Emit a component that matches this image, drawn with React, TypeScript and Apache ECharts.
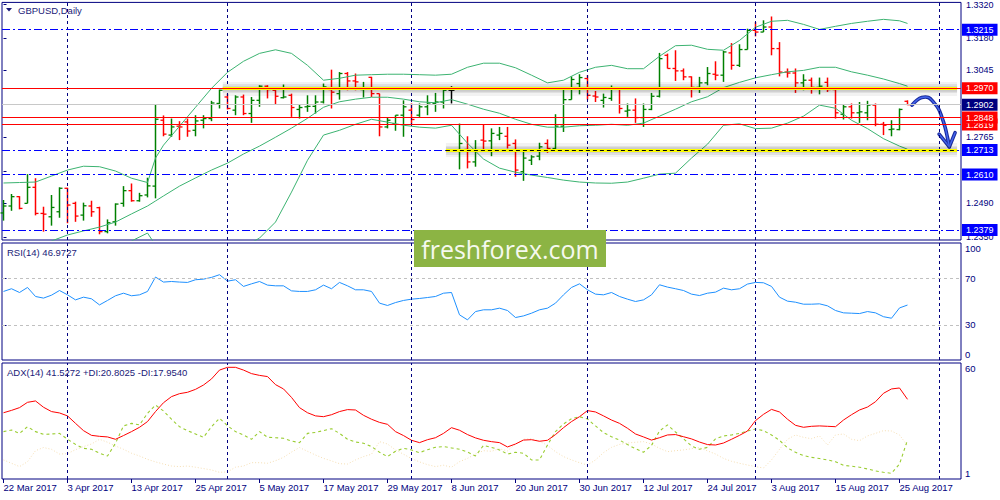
import React, { useEffect, useRef } from 'react';
import * as echarts from 'echarts';

// ---------- data ----------
const tickLabels = ['22 Mar 2017', '3 Apr 2017', '13 Apr 2017', '25 Apr 2017', '5 May 2017', '17 May 2017', '29 May 2017', '8 Jun 2017', '20 Jun 2017', '30 Jun 2017', '12 Jul 2017', '24 Jul 2017', '3 Aug 2017', '15 Aug 2017', '25 Aug 2017'];
const labelStep = 8;
const monthStarts = [8, 28, 51, 73, 94, 117];

const opens = [1.2450, 1.2479, 1.2518, 1.2490, 1.2557, 1.2448, 1.2434, 1.2455, 1.2553, 1.2490,
  1.2441, 1.2479, 1.2472, 1.2372, 1.2413, 1.2490, 1.2543, 1.2501, 1.2525, 1.2562,
  1.2837, 1.2775, 1.2812, 1.2830, 1.2795, 1.2837, 1.2844, 1.2907, 1.2934, 1.2879,
  1.2934, 1.2865, 1.2920, 1.2979, 1.2962, 1.2931, 1.2941, 1.2882, 1.2893, 1.2895,
  1.2913, 1.2965, 1.2948, 1.3032, 1.3001, 1.2965, 1.3016, 1.2948, 1.2809, 1.2823,
  1.2858, 1.2879, 1.2858, 1.2893, 1.2907, 1.2913, 1.2962, 1.2712, 1.2715, 1.2663,
  1.2754, 1.2751, 1.2775, 1.2770, 1.2740, 1.2622, 1.2670, 1.2687, 1.2740, 1.2719,
  1.2812, 1.2923, 1.2990, 1.3011, 1.2938, 1.2920, 1.2928, 1.2969, 1.2875, 1.2879,
  1.2848, 1.2882, 1.2937, 1.3108, 1.3053, 1.3043, 1.3018, 1.2974, 1.2993, 1.3029,
  1.3025, 1.3118, 1.3066, 1.3132, 1.3212, 1.3205, 1.3226, 1.3136, 1.3038, 1.3034,
  1.2993, 1.3004, 1.2974, 1.2995, 1.2965, 1.2862, 1.2893, 1.2868, 1.2868, 1.2900,
  1.2820, 1.2798, 1.2798, 1.2916];
const highs = [1.2504, 1.2529, 1.2520, 1.2612, 1.2595, 1.2476, 1.2525, 1.2557, 1.2555, 1.2497,
  1.2493, 1.2501, 1.2476, 1.2423, 1.2490, 1.2562, 1.2573, 1.2534, 1.2597, 1.2904,
  1.2857, 1.2844, 1.2833, 1.2844, 1.2858, 1.2858, 1.2918, 1.2965, 1.2948, 1.2941,
  1.2944, 1.2934, 1.2983, 1.2983, 1.2965, 1.2986, 1.2948, 1.2904, 1.2941, 1.2941,
  1.2990, 1.3048, 1.3038, 1.3038, 1.3032, 1.2997, 1.3018, 1.2948, 1.2848, 1.2858,
  1.2920, 1.2907, 1.2907, 1.2941, 1.2951, 1.2965, 1.2979, 1.2823, 1.2770, 1.2754,
  1.2820, 1.2803, 1.2809, 1.2809, 1.2757, 1.2705, 1.2691, 1.2743, 1.2757, 1.2862,
  1.2969, 1.3020, 1.3029, 1.3025, 1.2959, 1.2948, 1.2982, 1.2973, 1.2907, 1.2928,
  1.2907, 1.2951, 1.3118, 1.3115, 1.3129, 1.3053, 1.3020, 1.3018, 1.3059, 1.3083,
  1.3126, 1.3159, 1.3154, 1.3219, 1.3247, 1.3254, 1.3270, 1.3163, 1.3053, 1.3053,
  1.3029, 1.3015, 1.3015, 1.3015, 1.2965, 1.2904, 1.2907, 1.2913, 1.2918, 1.2907,
  1.2830, 1.2837, 1.2886, 1.2920];
const lows = [1.2418, 1.2459, 1.2465, 1.2490, 1.2440, 1.2372, 1.2397, 1.2430, 1.2407, 1.2413,
  1.2418, 1.2434, 1.2361, 1.2365, 1.2397, 1.2476, 1.2497, 1.2497, 1.2515, 1.2511,
  1.2770, 1.2768, 1.2754, 1.2768, 1.2770, 1.2803, 1.2833, 1.2886, 1.2882, 1.2858,
  1.2858, 1.2826, 1.2893, 1.2928, 1.2904, 1.2928, 1.2851, 1.2844, 1.2872, 1.2865,
  1.2907, 1.2886, 1.2923, 1.2962, 1.2962, 1.2932, 1.2934, 1.2770, 1.2803, 1.2793,
  1.2768, 1.2820, 1.2851, 1.2858, 1.2872, 1.2886, 1.2907, 1.2632, 1.2636, 1.2643,
  1.2712, 1.2687, 1.2754, 1.2719, 1.2601, 1.2584, 1.2650, 1.2670, 1.2701, 1.2712,
  1.2788, 1.2923, 1.2945, 1.2923, 1.2913, 1.2890, 1.2918, 1.2865, 1.2851, 1.2826,
  1.2809, 1.2879, 1.2932, 1.3053, 1.3001, 1.3004, 1.2932, 1.2951, 1.2983, 1.3004,
  1.2997, 1.3048, 1.3059, 1.3132, 1.3187, 1.3205, 1.3108, 1.3020, 1.3015, 1.2951,
  1.2962, 1.2948, 1.2945, 1.2955, 1.2844, 1.2840, 1.2844, 1.2826, 1.2837, 1.2812,
  1.2775, 1.2770, 1.2795, 1.2900];
const closes = [1.2479, 1.2518, 1.2469, 1.2557, 1.2448, 1.2445, 1.2473, 1.2553, 1.2483, 1.2437,
  1.2480, 1.2455, 1.2372, 1.2409, 1.2487, 1.2543, 1.2501, 1.2522, 1.2563, 1.2841,
  1.2779, 1.2809, 1.2809, 1.2792, 1.2834, 1.2844, 1.2909, 1.2962, 1.2886, 1.2934,
  1.2865, 1.2920, 1.2979, 1.2965, 1.2937, 1.2934, 1.2890, 1.2890, 1.2895, 1.2913,
  1.2976, 1.2954, 1.3032, 1.3001, 1.2997, 1.2973, 1.2948, 1.2809, 1.2837, 1.2858,
  1.2893, 1.2840, 1.2893, 1.2909, 1.2913, 1.2962, 1.2962, 1.2740, 1.2663, 1.2712,
  1.2750, 1.2782, 1.2782, 1.2733, 1.2629, 1.2679, 1.2684, 1.2726, 1.2719, 1.2812,
  1.2923, 1.3007, 1.3015, 1.2941, 1.2934, 1.2932, 1.2969, 1.2886, 1.2879, 1.2848,
  1.2882, 1.2937, 1.3094, 1.3053, 1.3043, 1.3018, 1.2974, 1.2993, 1.3032, 1.3025,
  1.3122, 1.3066, 1.3132, 1.3212, 1.3205, 1.3226, 1.3136, 1.3038, 1.3034, 1.2993,
  1.3004, 1.2974, 1.2979, 1.2965, 1.2868, 1.2893, 1.2868, 1.2872, 1.2900, 1.2820,
  1.2816, 1.2800, 1.2882, 1.2902];

const bbIdx = [0, 2, 4, 6, 8, 10, 12, 14, 16, 18, 19,
  20, 22, 24, 26, 28, 30, 32, 34, 36, 38,
  40, 42, 44, 46, 48, 50, 52, 54, 56, 58,
  60, 62, 64, 66, 68, 70, 72, 74, 76, 78,
  80, 82, 84, 86, 88, 90, 92, 94, 96, 98,
  100, 102, 104, 106, 108, 110, 112, 113];
const bbUpper = [1.2575, 1.2577, 1.2579, 1.2604, 1.2629, 1.2645, 1.2643, 1.2625, 1.2595, 1.2577, 1.2679,
  1.2733, 1.2812, 1.2891, 1.2970, 1.3037, 1.3083, 1.3116, 1.3131, 1.3116, 1.3066,
  1.3004, 1.3012, 1.3025, 1.3027, 1.3029, 1.3029, 1.3027, 1.3025, 1.3029, 1.3058,
  1.3075, 1.3075, 1.3056, 1.3025, 1.2993, 1.3004, 1.3037, 1.3058, 1.3066, 1.3052,
  1.3052, 1.3104, 1.3148, 1.3150, 1.3133, 1.3129, 1.3170, 1.3225, 1.3250, 1.3254,
  1.3237, 1.3216, 1.3229, 1.3241, 1.3250, 1.3258, 1.3252, 1.3241];
const bbMid = [1.2245, 1.2275, 1.2304, 1.2333, 1.2358, 1.2375, 1.2391, 1.2412, 1.2446, 1.2479, 1.2500,
  1.2521, 1.2562, 1.2596, 1.2629, 1.2658, 1.2696, 1.2729, 1.2766, 1.2804, 1.2845,
  1.2891, 1.2914, 1.2925, 1.2933, 1.2933, 1.2925, 1.2914, 1.2910, 1.2923, 1.2904,
  1.2883, 1.2866, 1.2841, 1.2820, 1.2808, 1.2808, 1.2814, 1.2816, 1.2820, 1.2816,
  1.2825, 1.2854, 1.2883, 1.2914, 1.2935, 1.2973, 1.2995, 1.3014, 1.3027, 1.3039,
  1.3045, 1.3058, 1.3058, 1.3039, 1.3025, 1.3009, 1.2990, 1.2979];
const bbLower = [1.1916, 1.1972, 1.2029, 1.2062, 1.2087, 1.2104, 1.2139, 1.2245, 1.2333, 1.2366, 1.2316,
  1.2308, 1.2312, 1.2300, 1.2287, 1.2279, 1.2308, 1.2345, 1.2412, 1.2537, 1.2670,
  1.2775, 1.2795, 1.2820, 1.2841, 1.2829, 1.2816, 1.2808, 1.2804, 1.2816, 1.2741,
  1.2675, 1.2637, 1.2620, 1.2608, 1.2598, 1.2587, 1.2579, 1.2575, 1.2574, 1.2579,
  1.2595, 1.2612, 1.2616, 1.2679, 1.2737, 1.2816, 1.2822, 1.2802, 1.2804, 1.2825,
  1.2854, 1.2900, 1.2887, 1.2837, 1.2802, 1.2760, 1.2729, 1.2716];

const rsi = [58.6, 60.9, 57.7, 62, 54.3, 52.9, 55.4, 59.4, 55.7, 51.4,
  53.7, 52.3, 47.1, 50.9, 54.9, 57.1, 54.9, 55.7, 58.6, 70.9,
  66.6, 67.1, 66.6, 66.3, 68.6, 69.1, 70.6, 72.9, 67.4, 68.6,
  62.9, 65.1, 67.1, 64, 63.4, 63.4, 59.1, 58.6, 58.6, 60,
  64, 60.9, 66.3, 63.4, 60, 60, 58.6, 48.6, 46.6, 49.1,
  50.9, 52, 52.6, 53.4, 54.3, 57.1, 57.7, 38.6, 34.3, 41.4,
  42.9, 42.9, 44.3, 42.3, 36.3, 37.7, 40, 42.9, 44.3, 48.6,
  55.7, 62, 65.1, 60, 56.3, 55.7, 57.7, 54.3, 52, 50,
  51.4, 55.7, 64.3, 62.3, 60.9, 59.4, 56.3, 55.1, 57.1, 58,
  61.4, 60, 60.9, 64.9, 66.3, 66, 62.9, 53.7, 50.3, 49.4,
  47.7, 47.7, 48, 46.3, 42.3, 40.3, 40, 39.7, 41.4, 40.3,
  37, 35.7, 44.5, 46.97];
const adx = [34.7, 35.9, 37.3, 40, 40.7, 37.5, 35.3, 34.6, 33.1, 29.3,
  25.6, 23.2, 22.7, 22.4, 21.2, 23.1, 25.1, 27.3, 30.2, 35.3,
  39.8, 42.9, 44.4, 45.1, 46.6, 48.8, 51.9, 56.4, 57.8, 57.8,
  56.4, 54.6, 53.7, 53.1, 49, 46.8, 42.5, 37.3, 34.7, 33.1,
  32.7, 33.7, 35.3, 36.3, 36.1, 33.4, 31.4, 29.8, 28.8, 25.1,
  23.1, 20.7, 19.5, 21, 22, 24.2, 27.1, 25.8, 23.6, 21.9,
  20.7, 20, 19.5, 17.3, 18.8, 20.8, 21, 20.2, 20.7, 23.6,
  27.1, 30.2, 32.7, 35.8, 35.1, 33.1, 31, 29.3, 26.8, 23.9,
  22.4, 20.8, 22, 23.4, 23.6, 22.5, 21.4, 19.8, 18.5, 18.3,
  19.3, 21.2, 23.2, 25.4, 30.7, 33.9, 36.4, 35.1, 31.4, 28.3,
  27.3, 27.8, 28, 27.8, 27.6, 31, 33.7, 36.1, 37.6, 40.3,
  44.6, 46.8, 47.3, 41.53];
const plusDI = [25.1, 25.9, 24.2, 27.6, 25.1, 23.7, 23.9, 24.2, 21.2, 18.6,
  16.6, 16.1, 14.1, 12.7, 19.2, 28, 29.3, 28.5, 34.4, 38.6,
  35.6, 31.4, 27.6, 25.6, 23.9, 22.2, 27.6, 31.9, 28.1, 25.1,
  23.4, 21.2, 25.1, 22.2, 22, 21.7, 20.3, 19.5, 24.2, 24.7,
  25.6, 26.6, 24.2, 21.2, 19.8, 19.2, 17.5, 14.6, 12.4, 15.1,
  16.6, 15.8, 14.4, 15.9, 17.1, 17.5, 16.8, 16.1, 14.7, 12.7,
  18.1, 17.1, 15.8, 13.7, 14.6, 14.1, 10.7, 10.7, 18.3, 25.1,
  29, 31.7, 32.7, 31.5, 28, 24.6, 22.5, 20.8, 18.5, 16.4,
  14.6, 18.1, 25.4, 28.5, 24.9, 21.5, 17.8, 16.1, 17.1, 21.4,
  22.9, 23.4, 24.2, 25.4, 26.4, 25.6, 23.4, 20.7, 16.8, 14.6,
  12.9, 12, 11.4, 10.7, 9.8, 8, 7.5, 7, 6.1, 5.1,
  4.4, 3.9, 8.6, 20.8];
const minusDI = [10.7, 9, 7.3, 9.8, 15.4, 17, 16.1, 13.7, 13.9, 15.9,
  17.5, 18.8, 21.2, 19.7, 17.8, 16.1, 14.1, 12.7, 11, 9.7,
  8.6, 7.6, 7.3, 7.6, 7, 6.3, 5.6, 4.4, 4.6, 7,
  7.6, 9.3, 9.3, 9, 10.3, 12, 14.7, 17, 15.1, 13.2,
  11.5, 10.2, 8.8, 8.6, 10.7, 12.4, 13.6, 20, 18.8, 15.8,
  13.6, 11.4, 9.7, 8.3, 7.3, 8, 7, 9.8, 11.5, 13.7,
  15.4, 15.1, 16.4, 15.3, 18.8, 21.2, 21.5, 20.2, 18.1, 14.9,
  12.4, 10.7, 9.3, 8.1, 10.7, 14.4, 17.1, 18.6, 19.3, 19.7,
  20, 18.8, 16.6, 14.9, 15.4, 15.8, 16.4, 17, 15.3, 13.7,
  11.5, 10, 9, 8.1, 7.3, 6.6, 10.7, 16.1, 21.2, 23.4,
  22.2, 21.5, 22.9, 18.3, 23.4, 23.9, 21.2, 20.5, 22.9, 24.2,
  25.6, 25.4, 23.4, 17.95];

const redLevels = [1.2970, 1.2819, 1.2848];
const blueLevels = [1.3215, 1.2713, 1.2610, 1.2379];
const bidPrice = 1.2902;
const zonePrices = [1.2970, 1.2713];
const zoneFrom = [27.4, 55.3];
const zoneTo = 119.2;
const priceTicks = [1.3320, 1.3180, 1.3045, 1.2905, 1.2765, 1.2625, 1.2490, 1.2350];
const priceLabels = [1.3320, 1.3180, 1.3045, 1.2765, 1.2490, 1.2350];
const rsiLevels = [70, 30];
const rsiLabels = [100, 70, 30, 0];
const adxLabels = [60, 1];
const arrowShaft = [[113.56, 1.2900], [114.15, 1.2920], [114.78, 1.2932], [115.6, 1.2932], [116.23, 1.2913], [116.85, 1.2886], [117.28, 1.2851], [117.69, 1.2809], [117.98, 1.2767], [118.23, 1.2726]];
const arrowHead = [[116.95, 1.2779], [118.23, 1.2726], [118.95, 1.2785]];

// ---------- style ----------
const NAVY = '#000080';
const FONT = '"Liberation Sans", Arial, sans-serif';
const X_MIN = -0.1875;
const X_MAX = 119.6875;

function boxLabel(bg: string) {
  return {
    show: true,
    position: 'end',
    distance: 1,
    formatter: (p: any) => Number(p.value).toFixed(4),
    color: '#ffffff',
    backgroundColor: bg,
    padding: [1, 4, 1, 4],
    fontSize: 9,
    fontFamily: FONT,
    lineHeight: 10,
  };
}

function segment(from: number, to: number, price: number, lineStyle: any) {
  return [
    { coord: [from, price], lineStyle, label: { show: false } },
    { coord: [to, price] },
  ];
}

function buildOption() {
  const grids = [
    { left: 2, top: 2, width: 959, height: 238 },
    { left: 2, top: 243, width: 959, height: 117 },
    { left: 2, top: 363, width: 959, height: 116 },
  ].map((g) => ({ ...g, show: true, borderColor: NAVY, borderWidth: 1, backgroundColor: 'transparent' }));

  const labelBars = tickLabels.map((_, k) => k * labelStep);

  const xAxes = [0, 1, 2].map((i) => ({
    type: 'value',
    gridIndex: i,
    min: X_MIN,
    max: X_MAX,
    axisLine: { show: false },
    splitLine: { show: false },
    axisTick: i === 2
      ? { show: true, customValues: labelBars, length: 4, lineStyle: { color: NAVY } }
      : { show: false },
    axisLabel: i === 2
      ? {
          show: true,
          customValues: labelBars,
          formatter: (v: number) => tickLabels[Math.round(v / labelStep)] || '',
          align: 'left',
          margin: 3,
          color: NAVY,
          fontSize: 9.5,
          fontFamily: FONT,
        }
      : { show: false },
  }));

  const edgeRich = {
    t: { padding: [11, 0, 0, 0], color: NAVY, fontSize: 9.5, fontFamily: FONT },
    b: { padding: [0, 0, 11, 0], color: NAVY, fontSize: 9.5, fontFamily: FONT },
    n: { color: NAVY, fontSize: 9.5, fontFamily: FONT },
  };

  const yAxes = [
    {
      type: 'value', gridIndex: 0, position: 'right', min: 1.23371, max: 1.33288,
      axisLine: { show: false }, splitLine: { show: false },
      axisTick: { show: true, customValues: priceTicks, length: 3, lineStyle: { color: NAVY } },
      axisLabel: {
        show: true, customValues: priceLabels, formatter: (v: number) => v.toFixed(4),
        color: NAVY, fontSize: 9, fontFamily: FONT, margin: 5,
      },
    },
    {
      type: 'value', gridIndex: 1, position: 'right', min: 0, max: 100,
      axisLine: { show: false }, splitLine: { show: false },
      axisTick: { show: true, customValues: rsiLevels, length: 3, lineStyle: { color: NAVY } },
      axisLabel: {
        show: true, customValues: rsiLabels, margin: 4,
        formatter: (v: number) => (v === 100 ? '{t|100}' : v === 0 ? '{b|0}' : '{n|' + v + '}'),
        rich: edgeRich,
      },
    },
    {
      type: 'value', gridIndex: 2, position: 'right', min: 1, max: 60,
      axisLine: { show: false }, splitLine: { show: false },
      axisTick: { show: false },
      axisLabel: {
        show: true, customValues: adxLabels, margin: 4,
        formatter: (v: number) => (v === 60 ? '{t|60}' : '{b|1}'),
        rich: edgeRich,
      },
    },
  ];

  // level lines and price boxes (main panel)
  const levelMarks: any[] = [];
  levelMarks.push({ yAxis: bidPrice, lineStyle: { color: '#c8c8c8', width: 1, type: 'solid' }, label: boxLabel(NAVY) });
  blueLevels.forEach((p) => {
    levelMarks.push({ yAxis: p, lineStyle: { color: '#0000ff', width: 1.2, type: [8, 3, 2, 3] }, label: boxLabel('#0000ff') });
  });
  zonePrices.forEach((p, k) => {
    levelMarks.push(segment(zoneFrom[k], zoneTo, p, { color: 'rgba(0,0,0,0.05)', width: 14, type: 'solid', cap: 'butt' }));
    levelMarks.push(segment(zoneFrom[k], zoneTo, p, { color: 'rgba(0,0,0,0.07)', width: 9, type: 'solid', cap: 'butt' }));
    levelMarks.push(segment(zoneFrom[k], zoneTo, p, { color: 'rgba(0,0,0,0.09)', width: 5.5, type: 'solid', cap: 'butt' }));
    levelMarks.push(segment(zoneFrom[k], zoneTo, p, { color: '#ffff00', width: 3, type: 'solid', cap: 'butt' }));
  });
  levelMarks.push(segment(zoneFrom[1], zoneTo, zonePrices[1], { color: '#000000', width: 1, type: [4, 3] }));
  redLevels.forEach((p) => {
    levelMarks.push({ yAxis: p, lineStyle: { color: '#ff0000', width: 1.2, type: 'solid' }, label: boxLabel('#ff0000') });
  });

  const monthMarkSeries = (i: number) => ({
    type: 'line', xAxisIndex: i, yAxisIndex: i, data: [], silent: true,
    markLine: {
      silent: true, symbol: ['none', 'none'], animation: false,
      label: { show: false },
      lineStyle: { color: NAVY, type: [3, 3], width: 1 },
      data: monthStarts.map((b) => ({ xAxis: b })),
    },
  });

  const bandSeries = (vals: number[]) => ({
    type: 'line', xAxisIndex: 0, yAxisIndex: 0, silent: true,
    data: bbIdx.map((x, k) => [x, vals[k]]),
    symbol: 'none', showSymbol: false, clip: true,
    lineStyle: { color: '#3cb371', width: 1 },
  });

  const ohlcData = opens.map((o, i) => [i, o, highs[i], lows[i], closes[i]]);

  const series: any[] = [
    monthMarkSeries(0),
    bandSeries(bbUpper),
    bandSeries(bbMid),
    bandSeries(bbLower),
    {
      type: 'line', xAxisIndex: 0, yAxisIndex: 0, data: [], silent: true,
      markLine: { silent: true, symbol: ['none', 'none'], animation: false, precision: 4, data: levelMarks },
    },
    {
      type: 'custom', xAxisIndex: 0, yAxisIndex: 0, silent: true,
      data: ohlcData,
      encode: { x: 0, y: [1, 2, 3, 4] },
      renderItem: (params: any, api: any) => {
        const i = api.value(0);
        const op = api.value(1);
        const cl = api.value(4);
        const o = api.coord([i, op]);
        const h = api.coord([i, api.value(2)]);
        const l = api.coord([i, api.value(3)]);
        const c = api.coord([i, cl]);
        const color = cl > op ? '#008000' : cl < op ? '#ff0000' : '#000000';
        return {
          type: 'group',
          children: [
            { type: 'line', shape: { x1: h[0], y1: h[1], x2: l[0], y2: l[1] }, style: { stroke: color, lineWidth: 1.5 } },
            { type: 'line', shape: { x1: o[0] - 3, y1: o[1], x2: o[0], y2: o[1] }, style: { stroke: color, lineWidth: 1.3 } },
            { type: 'line', shape: { x1: c[0], y1: c[1], x2: c[0] + 3, y2: c[1] }, style: { stroke: color, lineWidth: 1.3 } },
          ],
        };
      },
    },
    {
      type: 'custom', xAxisIndex: 0, yAxisIndex: 0, silent: true,
      data: [[arrowShaft[0][0], arrowShaft[0][1]]],
      encode: { x: 0, y: 1 },
      renderItem: (params: any, api: any) => {
        const pts = arrowShaft.map((p) => api.coord(p));
        const head = arrowHead.map((p) => api.coord(p));
        const dark = '#1b2b9e';
        const light = '#4466ee';
        return {
          type: 'group',
          children: [
            { type: 'polyline', shape: { points: pts, smooth: 0.4 }, style: { stroke: dark, lineWidth: 3.6, fill: null, lineCap: 'round', lineJoin: 'round' } },
            { type: 'polyline', shape: { points: head }, style: { stroke: dark, lineWidth: 3.6, fill: null, lineCap: 'round', lineJoin: 'round' } },
            { type: 'polyline', shape: { points: pts, smooth: 0.4 }, style: { stroke: light, lineWidth: 1.4, fill: null, lineCap: 'round' } },
            { type: 'polyline', shape: { points: head }, style: { stroke: light, lineWidth: 1.4, fill: null, lineCap: 'round', lineJoin: 'round' } },
          ],
        };
      },
    },
    monthMarkSeries(1),
    {
      type: 'line', xAxisIndex: 1, yAxisIndex: 1, silent: true,
      data: rsi.map((v, i) => [i, v]),
      symbol: 'none', showSymbol: false,
      lineStyle: { color: '#1e90ff', width: 1 },
      markLine: {
        silent: true, symbol: ['none', 'none'], animation: false,
        label: { show: false },
        lineStyle: { color: '#c0c0c0', type: [3, 3], width: 1 },
        data: rsiLevels.map((v) => ({ yAxis: v })),
      },
    },
    monthMarkSeries(2),
    {
      type: 'line', xAxisIndex: 2, yAxisIndex: 2, silent: true,
      data: minusDI.map((v, i) => [i, v]),
      symbol: 'none', showSymbol: false,
      lineStyle: { color: '#f5deb3', width: 1, type: [1, 2] },
    },
    {
      type: 'line', xAxisIndex: 2, yAxisIndex: 2, silent: true,
      data: plusDI.map((v, i) => [i, v]),
      symbol: 'none', showSymbol: false,
      lineStyle: { color: '#9acd32', width: 1.1, type: [3, 3] },
    },
    {
      type: 'line', xAxisIndex: 2, yAxisIndex: 2, silent: true,
      data: adx.map((v, i) => [i, v]),
      symbol: 'none', showSymbol: false,
      lineStyle: { color: '#ff0000', width: 1 },
    },
  ];

  const textStyle = (text: string) => ({ text, fill: '#1a1a78', fontSize: 9.5, fontFamily: FONT, verticalAlign: 'middle' });

  const graphic = [
    { type: 'polygon', shape: { points: [[6, 8], [12, 8], [9, 11.5]] }, style: { fill: '#1a1a78' }, z: 100 },
    { type: 'text', x: 18, y: 10.5, style: textStyle('GBPUSD,Daily'), z: 100 },
    { type: 'text', x: 7, y: 252, style: textStyle('RSI(14) 46.9727'), z: 100 },
    { type: 'text', x: 7, y: 372, style: textStyle('ADX(14) 41.5272 +DI:20.8025 -DI:17.9540'), z: 100 },
    { type: 'rect', shape: { x: 414, y: 230, width: 192, height: 37 }, style: { fill: '#8cb444' }, z: 110 },
    {
      type: 'text', x: 510, y: 248.5, z: 111,
      style: { text: 'freshforex.com', fill: '#f6f9ef', fontSize: 25, fontFamily: '"Open Sans", "Noto Sans", sans-serif', align: 'center', verticalAlign: 'middle' },
    },
  ];

  return {
    animation: false,
    backgroundColor: '#ffffff',
    grid: grids,
    xAxis: xAxes,
    yAxis: yAxes,
    series,
    graphic,
  };
}

export default function App() {
  const ref = useRef<HTMLDivElement>(null);
  useEffect(() => {
    if (!ref.current) return;
    const chart = echarts.init(ref.current, null, { renderer: 'svg', width: 1000, height: 500 });
    chart.setOption(buildOption() as any);
    return () => {
      chart.dispose();
    };
  }, []);
  return (
    <div
      ref={ref}
      style={{ position: 'fixed', left: 0, top: 0, width: 1000, height: 500, background: '#ffffff' }}
    />
  );
}
